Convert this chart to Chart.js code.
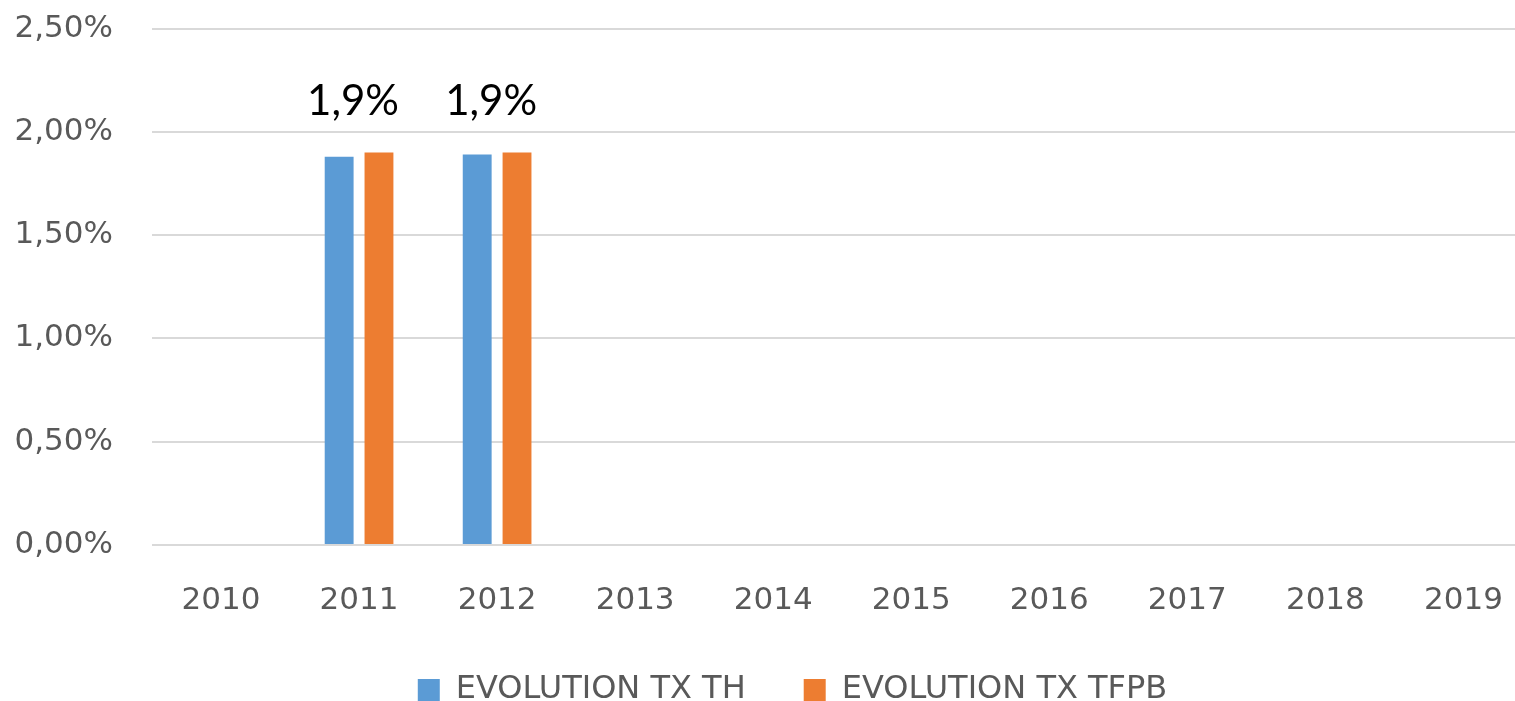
<!DOCTYPE html>
<html>
<head>
<meta charset="utf-8">
<script src="https://cdn.jsdelivr.net/npm/chart.js@4"></script>
<style>
  html, body { margin: 0; padding: 0; background: #fff; overflow: hidden; }
  #chart { display: block; margin-top: -29px; }
</style>
</head>
<body>
<canvas id="chart" width="1540" height="730"></canvas>
<script>
var years = ['2010', '2011', '2012', '2013', '2014', '2015', '2016', '2017', '2018', '2019'];
var txTH = [null, 0.0188, 0.0189, null, null, null, null, null, null, null];
var txTFPB = [null, 0.0190, 0.0190, null, null, null, null, null, null, null];
var groupLabels = [null, '1,9%', '1,9%', null, null, null, null, null, null, null];
var labelLevel = 0.02145;

var groupLabelPlugin = {
    id: 'groupLabels',
    afterDatasetsDraw: function (chart) {
        var ctx = chart.ctx;
        var x = chart.scales.x, y = chart.scales.y;
        ctx.save();
        ctx.font = '42px Lato';
        ctx.fillStyle = '#000000';
        ctx.textAlign = 'center';
        ctx.textBaseline = 'middle';
        groupLabels.forEach(function (txt, i) {
            if (!txt) return;
            ctx.fillText(txt, x.getPixelForValue(i) - 6, y.getPixelForValue(labelLevel));
        });
        ctx.restore();
    }
};

// keep the legend short so the plot keeps its room, and nudge it right
var legendFit = {
    id: 'legendFit',
    beforeUpdate: function (chart) {
        var lg = chart.legend;
        if (lg && !lg._fitPatched) {
            var fit = lg.fit;
            lg.fit = function () { fit.call(this); this.height = 85; };
            lg._fitPatched = true;
        }
    },
    afterLayout: function (chart) {
        var lg = chart.legend;
        if (lg) { lg.left += 24; lg.right += 24; }
    }
};

Chart.defaults.font.family = 'DejaVu Sans';
Chart.defaults.color = '#595959';

new Chart(document.getElementById('chart').getContext('2d'), {
    type: 'bar',
    data: {
        labels: years,
        datasets: [{
            label: 'EVOLUTION TX TH',
            data: txTH,
            backgroundColor: '#5B9BD5'
        }, {
            label: 'EVOLUTION TX TFPB',
            data: txTFPB,
            backgroundColor: '#ED7D31'
        }]
    },
    options: {
        responsive: false,
        animation: false,
        categoryPercentage: 0.577,
        barPercentage: 0.725,
        layout: { padding: { top: 0, right: 3, bottom: 0 } },
        plugins: {
            tooltip: { enabled: false },
            legend: {
                position: 'bottom',
                labels: {
                    font: { size: 32 },
                    color: '#595959',
                    boxWidth: 22,
                    boxHeight: 22,
                    padding: 58
                }
            }
        },
        scales: {
            x: {
                afterFit: function (scale) { scale.height = 71; },
                grid: { display: false, drawTicks: false },
                border: { display: false },
                ticks: { font: { size: 31 }, color: '#595959', padding: 37 }
            },
            y: {
                min: 0,
                max: 0.025,
                afterFit: function (scale) { scale.width = 152; },
                grid: { color: '#d9d9d9', lineWidth: 2, drawTicks: false },
                border: { display: false },
                ticks: {
                    stepSize: 0.005,
                    padding: 39,
                    font: { size: 31 },
                    color: '#595959',
                    callback: function (v) { return (v * 100).toFixed(2).replace('.', ',') + '%'; }
                }
            }
        }
    },
    plugins: [groupLabelPlugin, legendFit]
});
</script>
</body>
</html>
